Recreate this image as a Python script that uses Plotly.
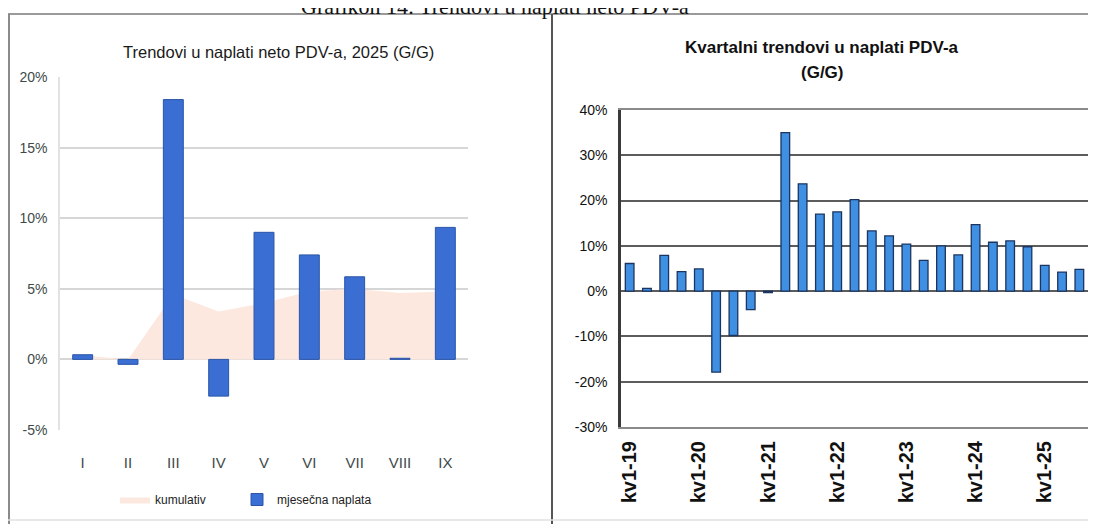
import plotly.graph_objects as go

# The page body has an 8px margin, so the figure is drawn 8px smaller and
# every reference-pixel position is shifted by that offset.
OFF = 8
W, H = 1096 - OFF, 524 - OFF

# ---------------- data ----------------
months = ["I", "II", "III", "IV", "V", "VI", "VII", "VIII", "IX"]
monthly_collection = [0.33, -0.35, 18.4, -2.6, 9.0, 7.4, 5.85, 0.08, 9.35]
cumulative = [0.3, 0.0, 4.6, 3.4, 4.0, 4.8, 5.0, 4.7, 4.8]

quarters = [
    "kv1-19", "kv2-19", "kv3-19", "kv4-19",
    "kv1-20", "kv2-20", "kv3-20", "kv4-20",
    "kv1-21", "kv2-21", "kv3-21", "kv4-21",
    "kv1-22", "kv2-22", "kv3-22", "kv4-22",
    "kv1-23", "kv2-23", "kv3-23", "kv4-23",
    "kv1-24", "kv2-24", "kv3-24", "kv4-24",
    "kv1-25", "kv2-25", "kv3-25",
]
quarterly_yoy = [6.1, 0.6, 7.9, 4.3, 4.9, -17.9, -9.8, -4.1, -0.3,
                 35.0, 23.7, 17.0, 17.5, 20.2, 13.3, 12.2,
                 10.4, 6.8, 10.0, 8.0, 14.7, 10.8, 11.1, 9.8,
                 5.7, 4.2, 4.8]
year_ticks = ["kv1-19", "kv1-20", "kv1-21", "kv1-22", "kv1-23", "kv1-24", "kv1-25"]

left_ticks = [-5, 0, 5, 10, 15, 20]
right_ticks = [-30, -20, -10, 0, 10, 20, 30, 40]

# ---------------- helpers ----------------
def px_x(x):
    return (x - OFF) / W

def px_y(y):
    return 1 - (y - OFF) / H

SANS = "Liberation Sans, Arial, sans-serif"
LEFT_COL = "#3e4a4a"

fig = go.Figure()

# cumulative area on the base (lower) subplot
fig.add_trace(go.Scatter(
    x=months, y=cumulative, name="kumulativ", mode="lines",
    line=dict(width=0, color="#fde6dc"),
    fill="tozeroy", fillcolor="#fde8df",
    xaxis="x", yaxis="y", hoverinfo="x+y", legend="legend",
))
# monthly bars on an overlaid subplot so they are drawn above the area
fig.add_trace(go.Bar(
    x=months, y=monthly_collection, name="mjesečna naplata", width=0.44,
    marker=dict(color="#3b6ed2", line=dict(color="#2a55a8", width=1)),
    xaxis="x3", yaxis="y3", legend="legend2",
))
fig.add_trace(go.Bar(
    x=quarters, y=quarterly_yoy, name="kvartalno", width=0.5, showlegend=False,
    marker=dict(color="#3f8fe2", line=dict(color="#1c3560", width=1.3)),
    xaxis="x2", yaxis="y2",
))

left_x_dom = [px_x(60), px_x(468)]
left_y_dom = [px_y(430), px_y(77)]

legend_common = dict(
    orientation="h", xanchor="left", yanchor="top",
    font=dict(family=SANS, size=12, color="#222222"),
    bgcolor="rgba(0,0,0,0)", itemwidth=30,
)

fig.update_layout(
    width=W, height=H, margin=dict(l=0, r=0, t=0, b=0, autoexpand=False),
    paper_bgcolor="white", plot_bgcolor="white",
    barmode="overlay",
    xaxis=dict(
        domain=left_x_dom, anchor="y", type="category",
        categoryorder="array", categoryarray=months, range=[-0.5, 8.5],
        showgrid=False, zeroline=False, showline=False, ticks="",
        tickfont=dict(family=SANS, size=15, color=LEFT_COL),
        ticklabelstandoff=22,
    ),
    yaxis=dict(
        domain=left_y_dom, anchor="x", range=[-5, 20],
        tickvals=left_ticks, ticktext=[f"{v}%" for v in left_ticks],
        showgrid=True, gridcolor="#d6d6d6", gridwidth=1.5,
        zeroline=False, showline=True, linecolor="#e2e2e2", linewidth=1.5,
        tickfont=dict(family=SANS, size=14, color=LEFT_COL),
        ticks="", ticklabelstandoff=8,
    ),
    xaxis3=dict(
        domain=left_x_dom, anchor="y3", overlaying="x", type="category",
        categoryorder="array", categoryarray=months, range=[-0.5, 8.5],
        visible=False,
    ),
    yaxis3=dict(
        domain=left_y_dom, anchor="x3", overlaying="y", range=[-5, 20],
        visible=False,
    ),
    xaxis2=dict(
        domain=[px_x(621), px_x(1088)], anchor="y2", type="category",
        categoryorder="array", categoryarray=quarters,
        tickvals=year_ticks, ticktext=year_ticks, tickangle=-90,
        showgrid=False, zeroline=False,
        showline=True, mirror=True, linecolor="#8a8a8a", linewidth=2,
        tickfont=dict(family=SANS, size=20, color="#111111", weight="bold"),
        ticks="", ticklabelstandoff=4,
    ),
    yaxis2=dict(
        domain=[px_y(427), px_y(110)], anchor="x2", range=[-30, 40],
        tickvals=right_ticks, ticktext=[f"{v}%" for v in right_ticks],
        showgrid=True, gridcolor="#5c5c5c", gridwidth=1.6,
        zeroline=True, zerolinecolor="#5c5c5c", zerolinewidth=1.6,
        showline=True, mirror=True, linecolor="#3a3a3a", linewidth=2.5,
        tickfont=dict(family=SANS, size=14, color="#111111"),
        ticks="", ticklabelstandoff=8,
    ),
    legend=dict(legend_common, x=px_x(115), y=px_y(485)),
    legend2=dict(legend_common, x=px_x(237), y=px_y(485)),
    showlegend=True,
)

annotations = [
    dict(text="Grafikon 14: Trendovi u naplati neto PDV-a",
         x=px_x(495), y=px_y(21), xanchor="center", yanchor="bottom",
         font=dict(family="Liberation Serif, Times New Roman, serif", size=22, color="#111111")),
    dict(text="Trendovi u naplati neto PDV-a, 2025 (G/G)",
         x=px_x(278), y=px_y(52), xanchor="center", yanchor="middle",
         font=dict(family=SANS, size=16.5, color="#1a1a1a")),
    dict(text="Kvartalni trendovi u naplati PDV-a",
         x=px_x(822), y=px_y(47), xanchor="center", yanchor="middle",
         font=dict(family=SANS, size=17, color="#111111", weight="bold")),
    dict(text="(G/G)",
         x=px_x(822), y=px_y(72), xanchor="center", yanchor="middle",
         font=dict(family=SANS, size=17, color="#111111", weight="bold")),
]
for a in annotations:
    a.update(xref="paper", yref="paper", showarrow=False)
fig.update_layout(annotations=annotations)

shapes = [
    dict(type="line", x0=px_x(8), x1=1, y0=px_y(14), y1=px_y(14), line=dict(color="#9a9a9a", width=2)),
    dict(type="line", x0=px_x(9), x1=px_x(9), y0=px_y(14), y1=0, line=dict(color="#8a8a8a", width=2)),
    dict(type="line", x0=px_x(552), x1=px_x(552), y0=px_y(14), y1=0, line=dict(color="#555555", width=2)),
    dict(type="line", x0=px_x(8), x1=1, y0=px_y(520), y1=px_y(520), line=dict(color="#e0e0e0", width=1.5)),
]
for s in shapes:
    s.update(xref="paper", yref="paper", layer="below")
fig.update_layout(shapes=shapes)

fig.write_html("out.html")
